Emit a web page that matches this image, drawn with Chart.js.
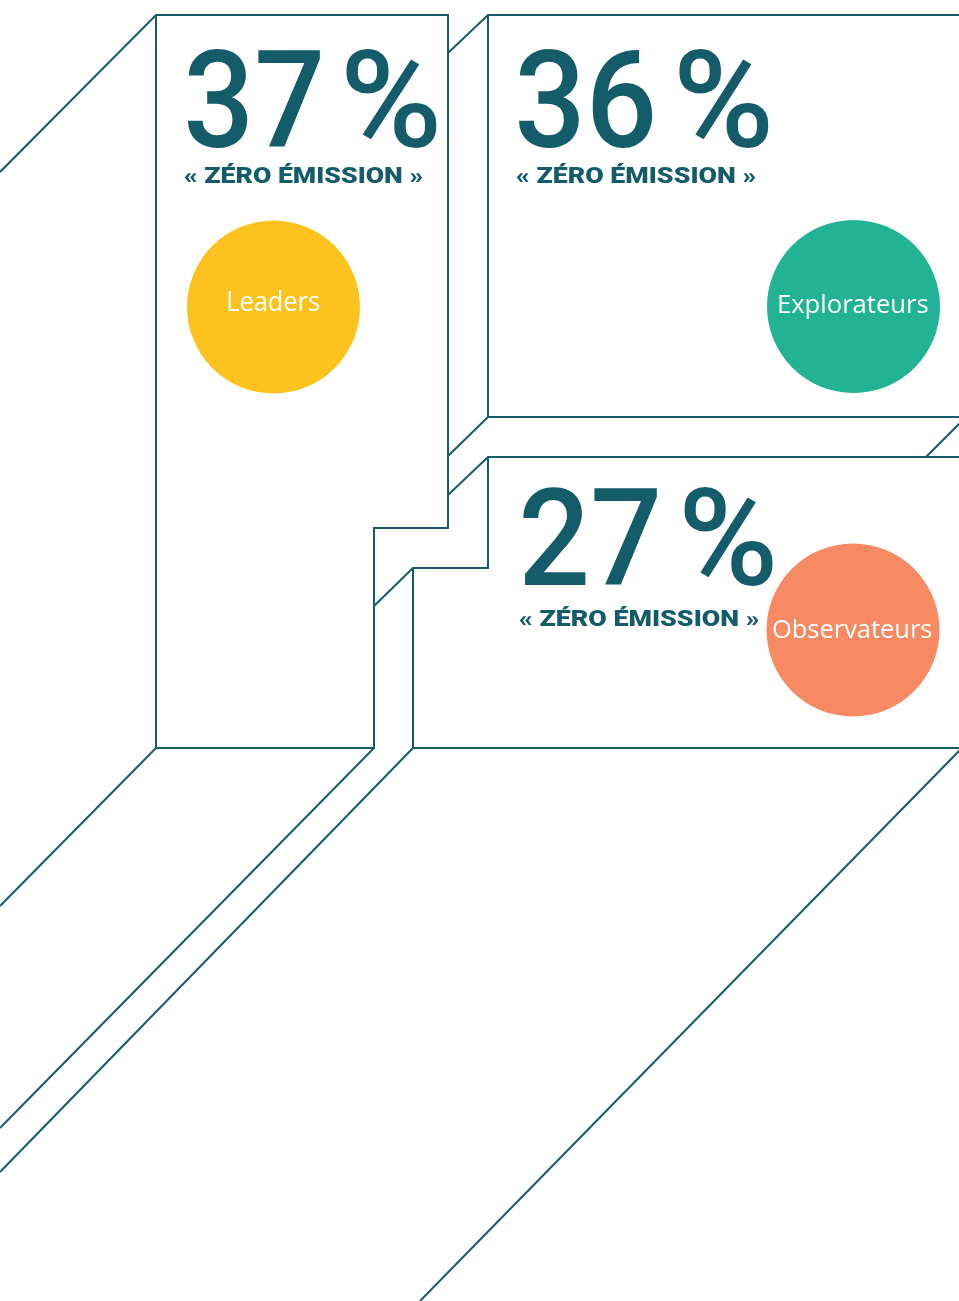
<!DOCTYPE html>
<html lang="fr">
<head>
<meta charset="utf-8">
<title>« Zéro émission » par profil</title>
<script src="https://cdn.jsdelivr.net/npm/chart.js@4/dist/chart.umd.min.js"></script>
<style>
  html, body { margin: 0; padding: 0; background: #ffffff; }
  #wrap { width: 959px; height: 1301px; position: relative; }
  canvas { display: block; }
</style>
</head>
<body>
<div id="wrap"><canvas id="c" width="959" height="1301"></canvas></div>
<script>
// ---------- DATA ----------
const categories = ['Leaders', 'Explorateurs', 'Observateurs'];
const zeroEmissionShare = [37, 36, 27];          // % « zéro émission »
const subtitle = '« ZÉRO ÉMISSION »';

// ---------- STYLE ----------
const ink = '#155c6b';
const bubbleColors = ['#fec21e', '#22b294', '#f78a62'];

// ---------- LAYOUT (page geometry, in page units) ----------
const bubbleCenterX = [273.5, 853.5, 853];
const bubbleCenterY = [307, 306.5, 630];
const bubbleRadius = 86.5;

const numBoxes = [
  { l: 188, r: 320, top: 50, base: 147 },
  { l: 519, r: 653, top: 50, base: 147 },
  { l: 523, r: 657, top: 488, base: 585 }
];
const pctSignBoxes = [
  { l: 346, r: 437, top: 50, base: 147 },
  { l: 679, r: 769, top: 50, base: 147 },
  { l: 684, r: 773, top: 488, base: 585 }
];
const subBoxes = [
  { l: 184, r: 423, top: 167.7, base: 183.3 },
  { l: 516, r: 756, top: 167.7, base: 183.3 },
  { l: 519, r: 759, top: 609.5, base: 625.5 }
];
const labelBoxes = [
  { l: 228, r: 319, top: 290.5, base: 310.7 },
  { l: 779, r: 928, top: 295, base: 313 },
  { l: 773, r: 932, top: 619, base: 638 }
];

// Decorative perspective outline (polylines)
const outlinePaths = [
  [[0,172],[156,15],[448,15],[448,528],[374,528],[374,748],[156,748],[156,15]],
  [[156,748],[0,906]],
  [[448,53],[488,15],[961,15]],
  [[488,15],[488,417],[961,417]],
  [[488,417],[448,456]],
  [[961,422],[926,457]],
  [[448,495],[488,457],[961,457]],
  [[488,457],[488,568],[413,568],[413,748],[961,748]],
  [[413,568],[374,606]],
  [[374,748],[0,1128]],
  [[413,748],[0,1172]],
  [[961,749],[420,1301]]
];

// ---------- CHART ----------
function fitText(ctx, text, weight, family, box, color, xs, ys) {
  ctx.save();
  ctx.font = `${weight} 100px ${family}`;
  const capRatio = ctx.measureText('H').actualBoundingBoxAscent / 100;
  const l = xs.getPixelForValue(box.l), r = xs.getPixelForValue(box.r);
  const top = ys.getPixelForValue(box.top), base = ys.getPixelForValue(box.base);
  const size = (base - top) / capRatio;
  ctx.font = `${weight} ${size}px ${family}`;
  ctx.textAlign = 'left';
  ctx.textBaseline = 'alphabetic';
  const m = ctx.measureText(text);
  const inkW = m.actualBoundingBoxLeft + m.actualBoundingBoxRight;
  const sx = (r - l) / inkW;
  ctx.translate(l, base);
  ctx.scale(sx, 1);
  ctx.fillStyle = color;
  ctx.fillText(text, m.actualBoundingBoxLeft, 0);
  ctx.restore();
}

const textPlugin = {
  id: 'infographicText',
  afterDatasetsDraw(chart) {
    const ctx = chart.ctx;
    const xs = chart.scales.x, ys = chart.scales.y;
    categories.forEach((cat, i) => {
      fitText(ctx, String(zeroEmissionShare[i]), '500', 'Roboto', numBoxes[i], ink, xs, ys);
      fitText(ctx, '%', '500', 'Roboto', pctSignBoxes[i], ink, xs, ys);
      fitText(ctx, subtitle, '900', 'Roboto', subBoxes[i], ink, xs, ys);
      fitText(ctx, cat, '500', '"Open Sans"', labelBoxes[i], '#ffffff', xs, ys);
    });
  }
};

function build() {
  const lineSets = outlinePaths.map(p => ({
    type: 'line',
    data: p.map(([x, y]) => ({ x, y })),
    borderColor: ink,
    borderWidth: 2,
    pointRadius: 0,
    fill: false,
    tension: 0,
    borderJoinStyle: 'miter',
    order: 2
  }));
  const bubbleSet = {
    type: 'bubble',
    label: 'Profils',
    data: categories.map((c, i) => ({ x: bubbleCenterX[i], y: bubbleCenterY[i], r: bubbleRadius })),
    backgroundColor: bubbleColors,
    borderWidth: 0,
    order: 0
  };
  new Chart(document.getElementById('c'), {
    type: 'scatter',
    data: { datasets: [bubbleSet, ...lineSets] },
    options: {
      responsive: false,
      devicePixelRatio: 1,
      animation: false,
      events: [],
      layout: { padding: 0, autoPadding: false },
      clip: false,
      scales: {
        x: { type: 'linear', min: 0, max: 959, display: false },
        y: { type: 'linear', min: 0, max: 1301, reverse: true, display: false }
      },
      plugins: { legend: { display: false }, tooltip: { enabled: false } }
    },
    plugins: [textPlugin]
  });
}

const fontLoads = [
  document.fonts.load('500 100px Roboto'),
  document.fonts.load('900 100px Roboto'),
  document.fonts.load('500 30px "Open Sans"')
];
Promise.all(fontLoads).then(build, build);
</script>
</body>
</html>
